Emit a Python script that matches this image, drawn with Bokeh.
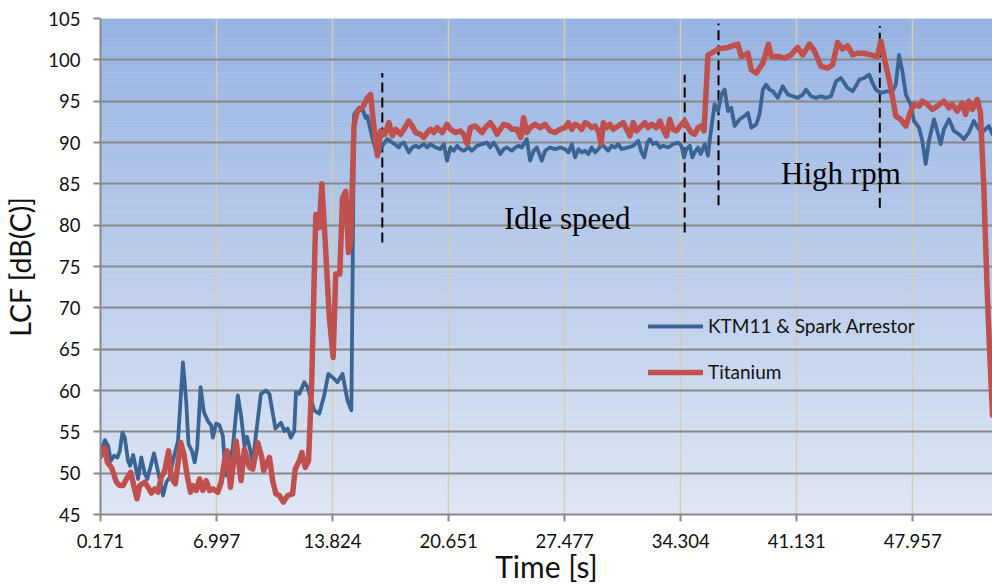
import numpy as np
from bokeh.plotting import figure
from bokeh.models import Range1d, FixedTicker, SingleIntervalTicker, Legend, LegendItem
from bokeh.core.properties import value
from bokeh.embed import file_html
from bokeh.resources import INLINE

# ---------------- data ----------------
time_ticks = [0.171, 6.997, 13.824, 20.651, 27.477, 34.304, 41.131, 47.957]
time_tick_labels = ["0.171", "6.997", "13.824", "20.651", "27.477", "34.304", "41.131", "47.957"]

ktm_t = [0.17, 0.43, 0.62, 0.78, 0.97, 1.17, 1.31, 1.46, 1.60, 1.79, 1.91, 2.09, 2.25, 2.38, 2.57,
         2.77, 2.93, 3.13, 3.32, 3.51, 3.65, 3.85, 4.04, 4.24, 4.43, 4.73, 5.02, 5.21, 5.35, 5.55,
         5.71, 5.86, 6.06, 6.25, 6.49, 6.68, 6.78, 6.97, 7.17, 7.37, 7.47, 7.56, 7.76, 7.95, 8.25,
         8.44, 8.64, 8.79, 8.99, 9.13, 9.32, 9.61, 9.91, 10.11, 10.46, 10.79, 10.99, 11.18, 11.37,
         11.57, 11.67, 11.87, 12.16, 12.35, 12.74, 13.04, 13.33, 13.58, 13.82, 14.11, 14.41, 14.70,
         14.93, 15.09, 15.38, 15.58, 15.77, 15.87, 16.16, 16.46, 16.75, 17.04, 17.34, 17.73,
         17.83, 18.02, 18.31, 18.51, 18.71, 18.90, 19.19, 19.39, 19.59, 19.88, 20.17, 20.37, 20.56,
         20.76, 20.95, 21.15, 21.34, 21.54, 21.83, 22.03, 22.32, 22.62, 22.91, 23.10, 23.30, 23.50,
         23.69, 23.89, 24.08, 24.37, 24.57, 24.77, 24.96, 25.25, 25.45, 25.65, 25.84, 26.13, 26.33,
         26.62, 26.92, 27.21, 27.50,
         27.70, 27.90, 28.09, 28.29, 28.48, 28.68, 28.87, 29.07, 29.27, 29.46, 29.66, 29.85, 30.05,
         30.24, 30.44, 30.63, 30.83, 31.22, 31.51, 31.81, 32.00, 32.16, 32.35, 32.49, 32.69, 32.88,
         33.08, 33.27, 33.57, 33.86, 34.15, 34.35, 34.50, 34.64, 34.84, 34.99, 35.13, 35.33, 35.48,
         35.72, 35.91, 36.01,
         36.11, 36.30, 36.50, 36.70, 36.89, 37.09, 37.28, 37.48, 37.77, 38.06, 38.26, 38.46, 38.75,
         38.94, 39.14, 39.33, 39.53, 39.73, 40.02, 40.31, 40.61, 40.90, 41.19, 41.49, 41.68, 41.97,
         42.27, 42.56, 42.85, 43.15, 43.44, 43.73, 43.93, 44.12, 44.42, 44.61, 44.81, 45.10, 45.40,
         45.59, 45.79, 46.08, 46.47, 46.76, 46.96, 47.15, 47.35, 47.55, 47.84, 48.03, 48.33, 48.52,
         48.72, 48.91, 49.21, 49.40, 49.60, 49.79, 50.09, 50.38, 50.67, 50.97, 51.26, 51.55, 51.85,
         52.14, 52.43, 52.65]
ktm_db = [52.5, 54.0, 53.3, 51.5, 52.1, 51.9, 52.7, 54.9, 54.3, 51.5, 50.9, 52.2, 50.6, 49.3, 51.9,
          50.0, 49.3, 50.9, 52.4, 50.6, 49.3, 47.3, 48.9, 49.5, 51.5, 53.9, 63.4, 58.8, 53.5, 52.7,
          51.3, 53.1, 60.4, 57.4, 56.3, 55.8, 54.3, 56.0, 55.8, 54.5, 51.5, 49.7, 51.2, 53.0, 59.4,
          57.0, 53.3, 54.4, 52.7, 51.3, 54.7, 59.6, 60.0, 59.6, 55.4, 56.1, 55.1, 55.4, 54.3,
          55.1, 59.8, 59.6, 61.0, 60.4, 57.6, 57.2, 59.4, 62.0, 61.6, 61.0, 62.0, 58.8,
          57.6, 93.4, 94.2, 94.0, 93.0, 93.2, 90.6, 88.4, 89.6, 90.4, 90.0, 89.4,
          89.8, 90.0, 88.8, 89.4, 89.6, 89.4, 89.8, 89.4, 89.8, 89.4, 89.2, 89.8, 87.8,
          89.4, 89.0, 89.6, 89.2, 89.0, 89.4, 89.0, 89.6, 89.8, 90.0, 89.4, 90.0, 89.4,
          88.6, 89.2, 89.4, 89.0, 89.4, 89.6, 89.4, 90.4, 87.8, 89.0, 89.4, 87.8, 89.0,
          89.4, 89.2, 89.4, 89.2,
          88.8, 89.8, 88.2, 89.2, 88.8, 89.0, 88.6, 89.4, 88.8, 89.2, 89.8, 89.4, 89.0,
          89.6, 89.4, 89.8, 89.2, 89.4, 89.6, 90.2, 88.8, 88.2, 90.0, 90.4, 89.8, 90.0,
          89.4, 89.6, 89.4, 89.8, 90.0, 89.6, 88.2, 89.2, 89.6, 88.2, 88.8, 89.4, 88.6,
          89.8, 88.4, 90.2,
          91.8, 94.6, 93.8, 95.8, 96.4, 93.8, 94.2, 92.0, 92.8, 93.2, 93.6, 91.8, 92.2,
          93.4, 96.4, 97.0, 96.4, 96.2, 95.4, 96.8, 95.8, 95.6, 95.4, 95.8, 96.4, 95.6,
          95.4, 95.6, 95.4, 95.6, 97.4, 97.8, 97.2, 96.6, 96.2, 96.8, 97.6, 97.8, 98.2,
          97.2, 96.4, 96.0, 96.2, 96.2, 97.0, 100.6, 98.6, 95.8, 94.6, 92.6, 91.8, 90.2,
          87.4, 90.2, 92.8, 91.4, 89.8, 91.6, 92.8, 91.4, 91.0, 90.4, 91.2, 92.6, 91.6,
          91.4, 92.0, 91.0]

ti_t = [0.17, 0.43, 0.58, 0.82, 1.11, 1.31, 1.50, 1.70, 1.95, 2.15, 2.32, 2.48, 2.77, 2.97, 3.16,
        3.36, 3.55, 3.75, 3.95, 4.18, 4.33, 4.57, 4.89, 5.08, 5.27, 5.47, 5.61, 5.80, 6.00, 6.19,
        6.39, 6.59, 6.78, 7.07, 7.27, 7.47, 7.62, 7.82, 8.15, 8.44, 8.64, 8.93, 9.13, 9.42, 9.65,
        9.77, 10.11, 10.30, 10.49, 10.69, 10.93, 11.18, 11.47, 11.63, 11.87, 12.02, 12.22, 12.41,
        12.60, 12.74, 12.84, 13.04, 13.19, 13.39, 13.62, 13.86, 14.01, 14.25, 14.41, 14.60, 14.76,
        14.89, 15.09, 15.28, 15.58, 15.87, 16.06, 16.26, 16.46, 16.65, 16.91, 17.14, 17.34, 17.53,
        17.83, 18.02, 18.31, 18.51, 18.71, 19.00, 19.19, 19.39, 19.59, 19.78, 19.98, 20.27, 20.56,
        20.76, 21.05, 21.34, 21.54, 21.74, 21.93, 22.22, 22.42, 22.62, 22.81, 23.10, 23.30, 23.50,
        23.69, 23.89, 24.18, 24.37, 24.67, 24.90, 25.06, 25.25, 25.45, 25.74, 26.04, 26.33, 26.62,
        26.92, 27.21, 27.50,
        27.70, 27.90, 28.09, 28.29, 28.48, 28.68, 28.87, 29.07, 29.27, 29.46, 29.62, 29.75, 29.95,
        30.14, 30.34, 30.63, 30.93, 31.12, 31.32, 31.51, 31.71, 31.90, 32.20, 32.39, 32.59, 32.88,
        33.08, 33.27, 33.47, 33.66, 33.86, 34.05, 34.35, 34.54, 34.74, 34.93, 35.13, 35.33, 35.52,
        35.68, 35.81, 35.91, 36.11,
        36.50, 37.09, 37.67, 37.87, 38.26, 38.46, 38.75, 39.14, 39.47, 39.63, 40.02, 40.41, 40.80,
        41.19, 41.49, 41.88, 42.17, 42.56, 42.95, 43.24, 43.54, 43.83, 44.12, 44.42, 44.71, 45.10,
        45.49, 45.88, 46.08, 46.37, 46.67, 46.96, 47.25, 47.55, 47.84, 48.03, 48.33, 48.52, 48.82,
        49.11, 49.40, 49.79, 50.09, 50.28, 50.58, 50.87, 51.07, 51.26, 51.46, 51.75, 51.94, 52.14,
        52.33, 52.49, 52.65]
ti_db = [52.0, 53.1, 51.3, 50.7, 48.9, 48.5, 48.5, 49.3, 50.1, 48.3, 46.9, 48.5, 48.9, 48.3, 47.6,
         48.1, 47.7, 49.5, 50.3, 52.7, 49.5, 48.7, 53.7, 52.3, 49.7, 47.7, 48.5, 47.9, 49.3, 47.9,
         49.1, 47.9, 48.1, 47.7, 48.9, 51.5, 52.7, 48.3, 53.9, 49.1, 52.9, 50.7, 50.5, 53.7, 52.0,
         50.3, 51.9, 49.1, 47.5, 47.3, 46.5, 47.3, 47.5, 50.5, 51.5, 52.5, 50.7, 51.5,
         61.2, 73.3, 81.3, 79.7, 85.0, 78.1, 69.2, 64.0, 74.1, 74.1, 83.3, 84.1, 76.7,
         78.1, 92.2, 93.8, 94.2, 95.4, 95.8, 91.8, 88.4, 91.4, 91.0, 92.4, 90.8, 91.6,
         91.0, 91.6, 92.6, 92.0, 91.2, 91.0, 90.6, 91.2, 91.6, 91.2, 91.8, 91.2, 92.2,
         91.6, 91.2, 91.4, 91.0, 89.8, 91.8, 92.0, 91.6, 91.2, 91.8, 92.4, 91.8, 91.0,
         91.6, 92.2, 92.0, 91.6, 91.6, 90.6, 93.0, 91.2, 91.8, 92.2, 91.8, 92.2, 91.4,
         91.2, 91.6, 91.8,
         92.4, 91.6, 92.2, 92.0, 91.6, 92.4, 92.2, 91.8, 92.0, 91.4, 89.8, 92.4, 91.8,
         92.2, 91.6, 92.0, 92.4, 91.6, 90.8, 92.4, 91.4, 91.8, 92.4, 91.8, 92.2, 91.8,
         92.6, 91.6, 90.8, 92.8, 91.6, 91.4, 92.2, 92.6, 91.8, 91.2, 91.0, 91.8, 92.0,
         91.4, 96.6, 100.6, 100.8,
         101.3, 101.5, 101.9, 100.4, 100.8, 98.8, 98.4, 99.6, 101.9, 100.4, 100.4, 100.2, 100.6,
         101.5, 100.6, 101.9, 101.1, 99.2, 99.0, 99.4, 102.1, 101.3, 101.7, 100.6, 100.8, 100.8,
         100.6, 100.4, 102.3, 99.4, 96.6, 93.2, 92.8, 92.0, 93.8, 94.6, 94.4, 95.0, 94.6,
         94.0, 94.4, 95.0, 94.2, 94.6, 93.8, 94.8, 93.4, 95.0, 94.0, 95.2, 93.6, 84.5,
         72.5, 64.4, 57.0]

series_names = ["KTM11 & Spark Arrestor", "Titanium"]
x_title = "Time [s]"
y_title = "LCF [dB(C)]"

phase_t = [16.75, 34.54, 36.53, 46.02]
phase_top = [98.4, 98.2, 104.4, 104.1]
phase_bottom = [77.9, 79.1, 82.4, 82.1]

note_text = ["Idle speed", "High rpm"]
note_t = [23.91, 40.21]
note_db = [80.76, 86.2]

# ---------------- figure ----------------
X0, X1 = 0.171, 52.65
Y0, Y1 = 45, 105

p = figure(width=992, height=586, output_backend="svg", toolbar_location=None,
           x_range=Range1d(X0, X1), y_range=Range1d(Y0, Y1),
           min_border_left=97, min_border_right=0, min_border_top=18, min_border_bottom=72)
p.outline_line_color = None
p.background_fill_color = "white"
p.border_fill_color = "white"

# vertical gradient background
nb = 120
edges = np.linspace(Y0, Y1, nb + 1)
top_rgb = np.array([0x97, 0xb3, 0xe2], dtype=float)
bot_rgb = np.array([0xdf, 0xe6, 0xf4], dtype=float)
cols = []
for i in range(nb):
    f = (i + 0.5) / nb
    c = bot_rgb + (top_rgb - bot_rgb) * f
    cols.append("#%02x%02x%02x" % tuple(int(round(v)) for v in c))
p.quad(left=X0, right=X1, bottom=edges[:-1], top=edges[1:], fill_color=cols,
       line_color=cols, line_width=0.5, level="image")

# grids
p.xgrid.ticker = FixedTicker(ticks=time_ticks)
p.xgrid.grid_line_color = "#d3ceae"
p.xgrid.grid_line_width = 1.5
p.ygrid.ticker = SingleIntervalTicker(interval=5)
p.ygrid.grid_line_color = "#888888"
p.ygrid.grid_line_width = 2

# axes
p.xaxis.ticker = FixedTicker(ticks=time_ticks)
p.xaxis.major_label_overrides = {t: s for t, s in zip(time_ticks, time_tick_labels)}
p.yaxis.ticker = SingleIntervalTicker(interval=5)
for ax in (p.xaxis[0], p.yaxis[0]):
    ax.axis_line_color = "#888888"
    ax.axis_line_width = 2
    ax.major_tick_line_color = "#888888"
    ax.major_tick_line_width = 2
    ax.major_tick_out = 7
    ax.major_tick_in = 0
    ax.minor_tick_line_color = None
    ax.major_label_text_font = "Lato"
    ax.major_label_text_font_size = "18.5px"
    ax.major_label_text_color = "#111111"
    ax.axis_label_text_font = "Lato"
    ax.axis_label_text_font_style = "normal"
    ax.axis_label_text_color = "#111111"
p.xaxis.major_label_standoff = 12
p.yaxis.major_label_standoff = 13
p.xaxis.axis_label = x_title
p.xaxis.axis_label_text_font_size = "30px"
p.xaxis.axis_label_standoff = -3
p.yaxis.axis_label = y_title
p.yaxis.axis_label_text_font_size = "28.5px"
p.yaxis.axis_label_standoff = 8

# annotations text + phase markers
p.text(x=note_t, y=note_db, text=note_text, text_font=value("Liberation Serif"),
       text_font_size="31px", text_color="black", text_baseline="alphabetic", text_align="left")
p.segment(x0=phase_t, y0=phase_bottom, x1=phase_t, y1=phase_top, line_color="black",
          line_width=2, line_dash="10 5")

# series
r_ktm = p.line(ktm_t, ktm_db, line_color="#3a6494", line_width=3.8, line_join="round", line_cap="round")
r_ti = p.line(ti_t, ti_db, line_color="#c0504d", line_width=5.5, line_join="round", line_cap="round")

legend = Legend(items=[LegendItem(label=series_names[0], renderers=[r_ktm]),
                       LegendItem(label=series_names[1], renderers=[r_ti])],
                location=(548, 131), glyph_width=55, glyph_height=20, label_height=20,
                spacing=23, padding=0, margin=0, border_line_color=None,
                background_fill_alpha=0, label_standoff=5,
                label_text_font="Lato", label_text_font_size="19px", label_text_color="#111111")
p.add_layout(legend)

open("out.html", "w").write(file_html(p, INLINE))
